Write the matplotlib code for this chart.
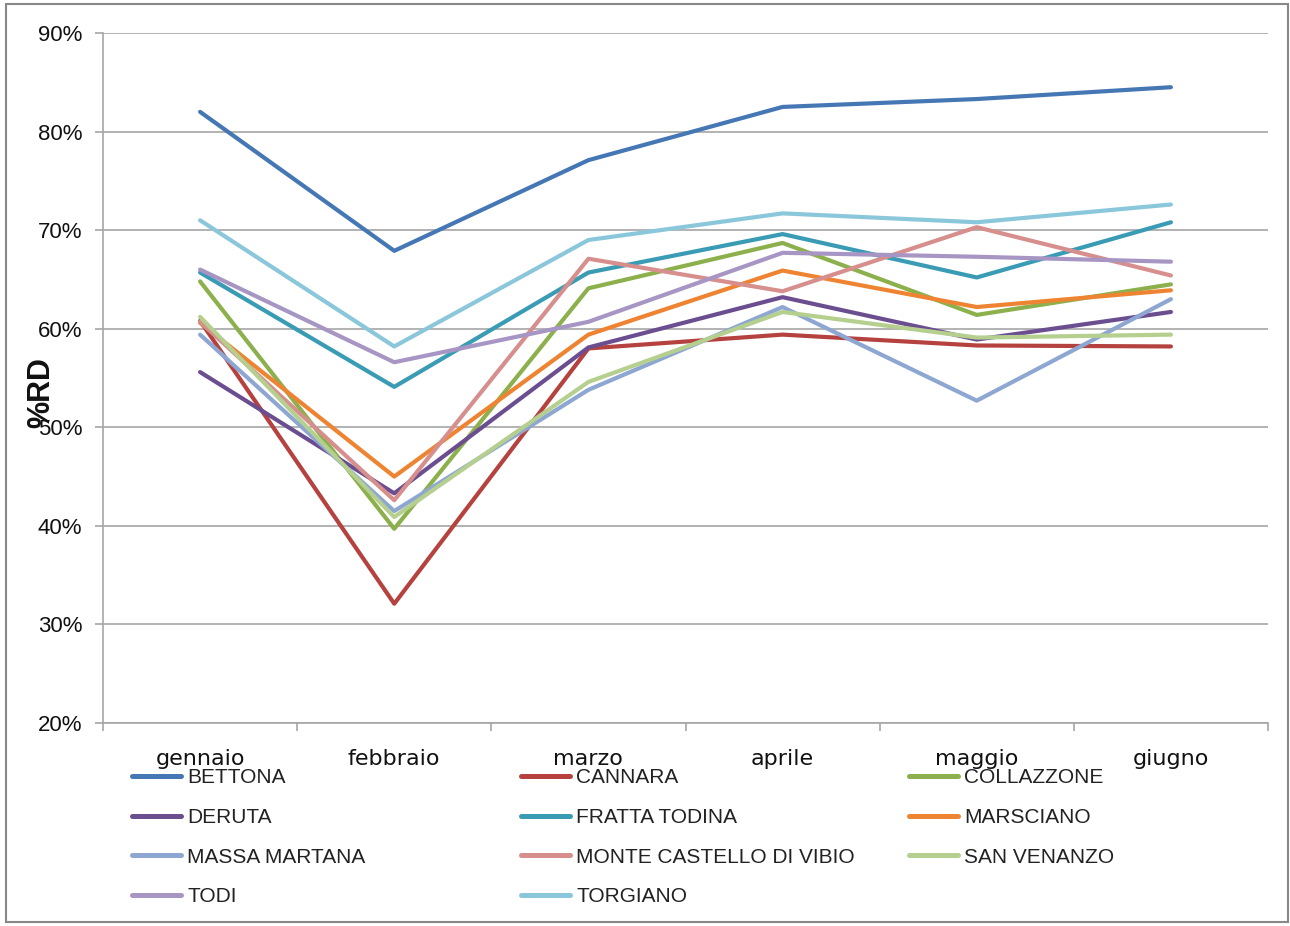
import matplotlib
matplotlib.use("Agg")
import matplotlib.pyplot as plt
from matplotlib.lines import Line2D
from matplotlib.patches import Rectangle
from matplotlib.ticker import FixedLocator, FuncFormatter

months = ["gennaio", "febbraio", "marzo", "aprile", "maggio", "giugno"]

BETTONA = [82.0, 67.9, 77.1, 82.5, 83.3, 84.5]
CANNARA = [60.8, 32.1, 58.0, 59.4, 58.3, 58.2]
COLLAZZONE = [64.8, 39.7, 64.1, 68.7, 61.4, 64.5]
DERUTA = [55.6, 43.3, 58.1, 63.2, 58.9, 61.7]
FRATTA_TODINA = [65.7, 54.1, 65.7, 69.6, 65.2, 70.8]
MARSCIANO = [60.6, 45.0, 59.4, 65.9, 62.2, 63.9]
MASSA_MARTANA = [59.4, 41.5, 53.8, 62.2, 52.7, 63.0]
MONTE_CASTELLO = [60.7, 42.6, 67.1, 63.8, 70.3, 65.4]
SAN_VENANZO = [61.2, 40.9, 54.6, 61.7, 59.1, 59.4]
TODI = [66.0, 56.6, 60.7, 67.7, 67.3, 66.8]
TORGIANO = [71.0, 58.2, 69.0, 71.7, 70.8, 72.6]

series_names = ["BETTONA", "CANNARA", "COLLAZZONE", "DERUTA", "FRATTA TODINA",
                "MARSCIANO", "MASSA MARTANA", "MONTE CASTELLO DI VIBIO",
                "SAN VENANZO", "TODI", "TORGIANO"]
series_values = [BETTONA, CANNARA, COLLAZZONE, DERUTA, FRATTA_TODINA, MARSCIANO,
                 MASSA_MARTANA, MONTE_CASTELLO, SAN_VENANZO, TODI, TORGIANO]
colors = ["#4677B5", "#B5423F", "#8CB04C", "#6B4E90", "#3A9BB5", "#EE8432",
          "#8EA7D2", "#D68F8D", "#B5CF8F", "#A796C4", "#8AC7DA"]

yticks = [20, 30, 40, 50, 60, 70, 80, 90]

W, H = 1290, 926
fig = plt.figure(figsize=(W / 100, H / 100), dpi=100)
fig.patch.set_facecolor("white")

ax = fig.add_axes([103 / W, 1 - 723 / H, (1268 - 103) / W, (723 - 33) / H])
x = list(range(len(months)))
for name, vals, c in zip(series_names, series_values, colors):
    ax.plot(x, vals, color=c, lw=3.0, solid_capstyle="round", solid_joinstyle="round", label=name)

ax.set_xlim(-0.5, len(months) - 0.5)
ax.set_ylim(20, 90)
ax.yaxis.set_major_locator(FixedLocator(yticks))
ax.yaxis.set_major_formatter(FuncFormatter(lambda v, p: f"{int(v)}%"))
ax.grid(axis="y", color="#A6A6A6", lw=1.2)
ax.set_axisbelow(True)

# x ticks: marks at boundaries, labels at centers
ax.set_xticks([i - 0.5 for i in range(len(months) + 1)])
ax.set_xticklabels([""] * (len(months) + 1))
ax.set_xticks(x, minor=True)
ax.set_xticklabels(months, minor=True, fontsize=16, family="DejaVu Sans", color="#111111")
ax.tick_params(axis="x", which="major", direction="out", length=6, color="#A6A6A6", width=1.2)
ax.tick_params(axis="x", which="minor", length=0, pad=18.5)
ax.tick_params(axis="y", direction="out", length=6, color="#A6A6A6", width=1.2, pad=9,
               labelsize=16, labelcolor="#111111")
for lbl in ax.get_yticklabels():
    lbl.set_family("Liberation Sans")

for s in ["top", "right"]:
    ax.spines[s].set_visible(False)
for s in ["left", "bottom"]:
    ax.spines[s].set_color("#A6A6A6")
    ax.spines[s].set_linewidth(1.2)

fig.text(41 / W, 1 - 393 / H, "%RD", rotation=90, fontsize=22, fontweight="bold",
         family="Liberation Sans", ha="center", va="center", color="#111111")

# legend in three columns
handles = [Line2D([0], [0], color=c, lw=3.6, solid_capstyle="round") for c in colors]
cols = [[0, 3, 6, 9], [1, 4, 7, 10], [2, 5, 8]]
col_x = [132, 521, 909]
for cx, idx in zip(col_x, cols):
    fig.legend([handles[i] for i in idx], [series_names[i] for i in idx],
               loc="upper left", bbox_to_anchor=(cx / W, 1 - 768 / H),
               frameon=False, handlelength=2.35, handletextpad=0.3,
               labelspacing=1.0, borderpad=0, borderaxespad=0,
               prop={"family": "Liberation Sans", "size": 15}, labelcolor="#222222")

fig.patches.append(Rectangle((6 / W, 4 / H), (1288 - 6) / W, (922 - 4) / H,
                             transform=fig.transFigure, fill=False,
                             edgecolor="#888888", lw=1.5))

fig.savefig("out.png", dpi=100)
